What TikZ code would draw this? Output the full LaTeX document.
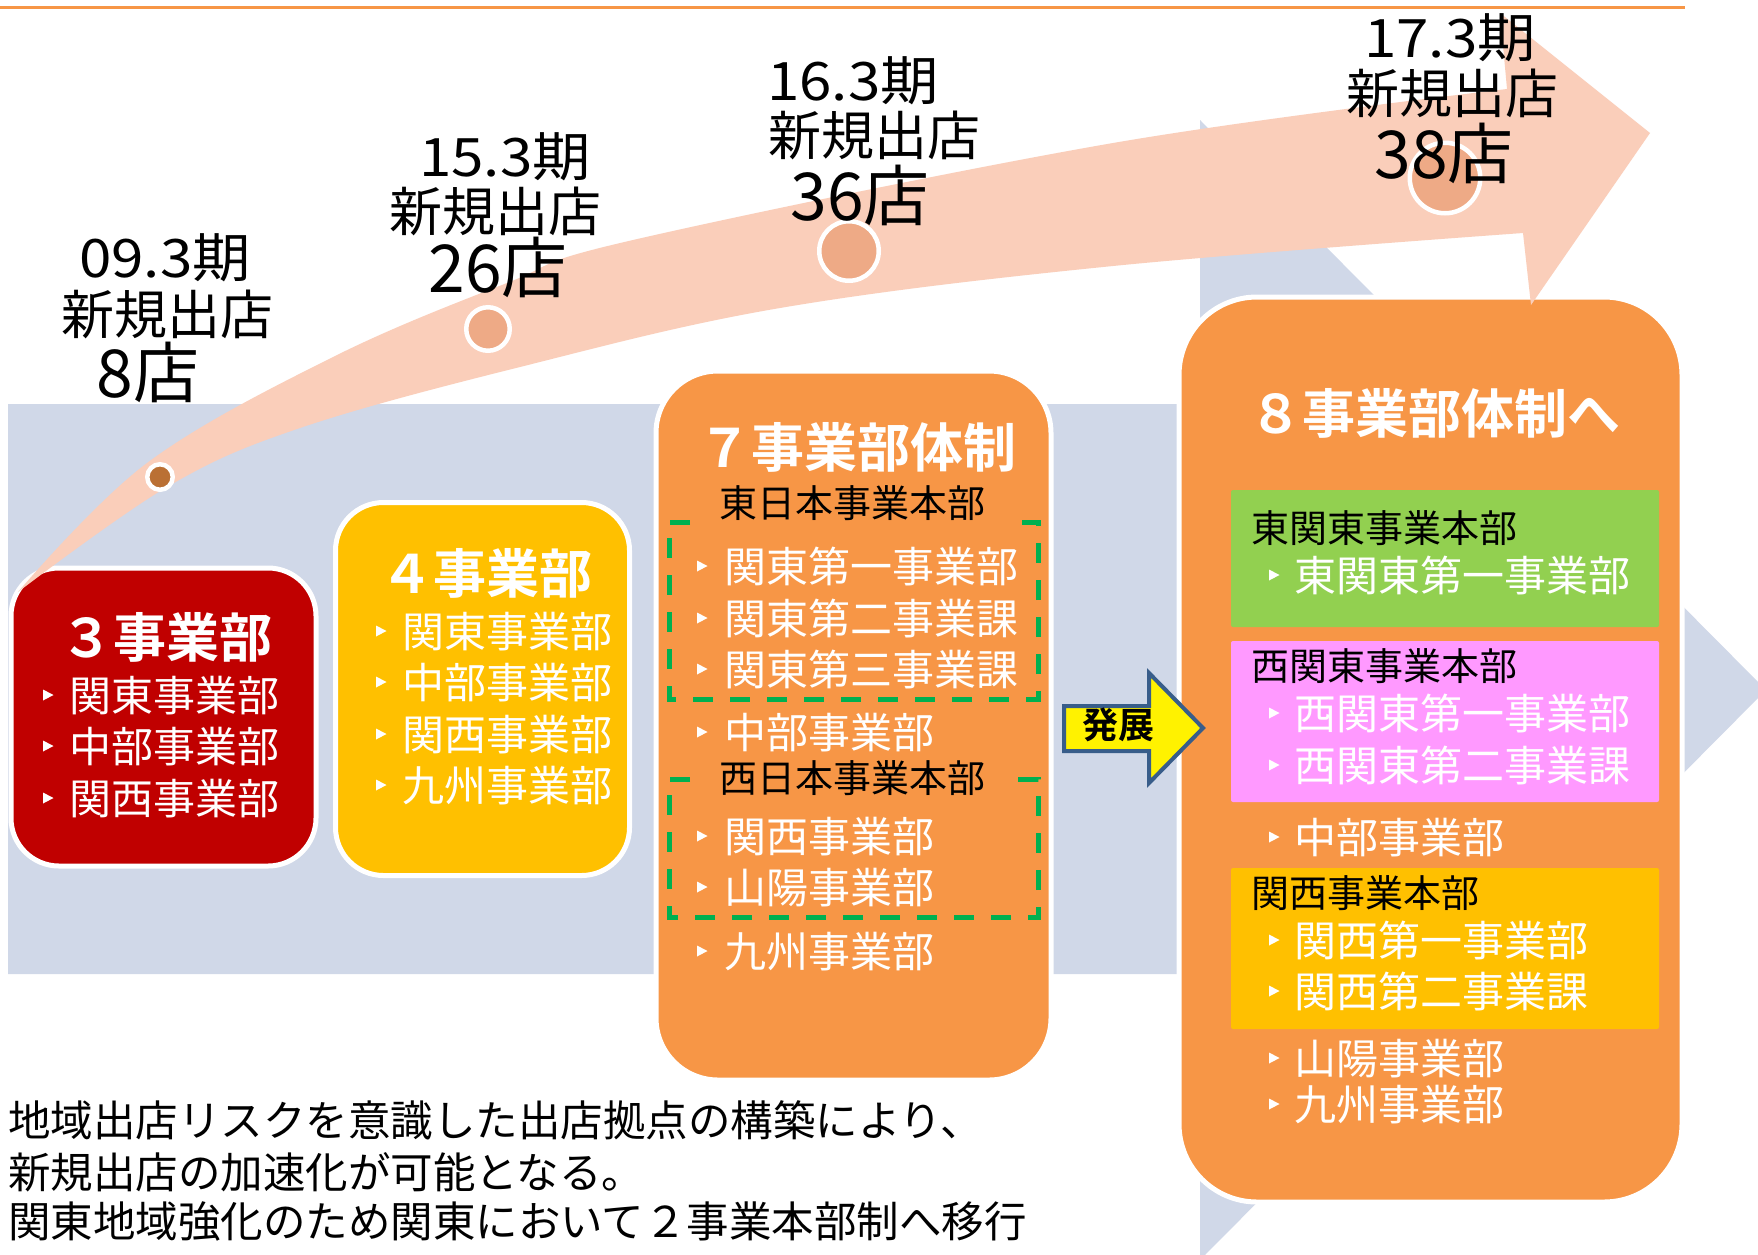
\documentclass[tikz,border=0pt]{standalone}
\usepackage{graphicx}
\usepackage{fontspec}
\setmainfont{Noto Sans CJK JP}[BoldFont={Noto Sans CJK JP Bold}]
\newcommand\myfs[1]{\fontsize{#1}{#1}\selectfont}
\newcommand\wide[1]{\scalebox{1.1}[1]{#1}}
\definecolor{bgblue}{RGB}{208,216,232}
\definecolor{salmon}{RGB}{250,206,186}
\definecolor{dotc}{RGB}{238,170,134}
\definecolor{dotbrown}{RGB}{186,112,52}
\definecolor{orangeA}{RGB}{247,150,70}
\definecolor{redA}{RGB}{192,0,0}
\definecolor{yellowA}{RGB}{255,192,0}
\definecolor{greenA}{RGB}{146,208,80}
\definecolor{pinkA}{RGB}{255,153,255}
\definecolor{dashgreen}{RGB}{0,176,80}
\definecolor{arrowblue}{RGB}{56,93,138}
\begin{document}
\begin{tikzpicture}[x=1pt, y=-1pt,
  listitem/.style={anchor=base west, inner sep=0pt, text=white, font=\myfs{42}},
  hqlab/.style={anchor=base west, inner sep=0pt, text=black, font=\myfs{38}},
  boxtitle/.style={anchor=base, inner sep=0pt, text=white, font=\bfseries\myfs{53}},
  toplab/.style={anchor=base, inner sep=0pt, text=black},
  notetext/.style={anchor=base west, inner sep=0pt, text=black, font=\myfs{42.5}},
  bigbox/.style={draw=white, line width=5pt, inner sep=0pt},
  inbox/.style={inner sep=0pt, minimum width=428pt, rounded corners=2pt},
  stdot/.style={circle, draw=white, line width=4.5pt, inner sep=0pt},
  dashbox/.style={draw=dashgreen, line width=5pt, dash pattern=on 20pt off 17pt},
  bul/.pic={\fill[white] (-5,-5.5) -- (5.5,0) -- (-5,5.5) -- cycle;}
]
\useasboundingbox (0,0) rectangle (1758,1254);
\clip (0,0) rectangle (1758,1254);
\fill[white] (0,0) rectangle (1758,1254);
% top line
\draw[orangeA, line width=2.5pt] (0,7.5) -- (1685,7.5);
% background arrow
\fill[bgblue] (8,404) -- (1200,404) -- (1200,120) -- (1766,690) -- (1200,1260) -- (1200,974) -- (8,974) -- cycle;
% boxes
\node[bigbox, fill=redA, rounded corners=48pt, minimum width=305pt, minimum height=298pt] (b3) at (163.5,717) {};
\node[bigbox, fill=yellowA, rounded corners=48pt, minimum width=294pt, minimum height=373pt] (b4) at (482.5,689) {};
\node[bigbox, fill=orangeA, rounded corners=62pt, minimum width=395pt, minimum height=709pt] (b7) at (853.5,725.5) {};
\node[bigbox, fill=orangeA, rounded corners=78pt, minimum width=503pt, minimum height=905pt] (b8) at (1430.5,749.5) {};
\node[inbox, fill=greenA, minimum height=137pt] (g8) at (1445,558.5) {};
\node[inbox, fill=pinkA, minimum height=161pt] (p8) at (1445,721.5) {};
\node[inbox, fill=yellowA, minimum height=161pt] (y8) at (1445,948.5) {};
% dashed groups
\draw[dashbox] (690,522) -- (669,522) -- (669,699) -- (1038,699) -- (1038,522) -- (1013,522);
\draw[dashbox] (690,779) -- (669,779) -- (669,917) -- (1038,917) -- (1038,779) -- (1013,779);
% hatten arrow
\draw[arrowblue, line width=4pt, fill=yellow, line join=miter] (1064,706) -- (1149,706) -- (1149,673) -- (1203,728) -- (1149,783) -- (1149,751) -- (1064,751) -- cycle;
\node[anchor=base, inner sep=0pt, font=\bfseries\myfs{36}] (hatten) at (1118,738) {発展};
% salmon growth arrow
\fill[salmon] plot[smooth, tension=0.6] coordinates {(18,592) (147,463) (333,357) (507,283) (633,240) (1113,143) (1507,89)}
  -- (1500,13) -- (1650,133) -- (1531,305) -- (1523,233)
  -- plot[smooth, tension=0.6] coordinates {(1523,233) (1113,266) (780,308) (520,367) (300,428) (167,487) (18,592)} -- cycle;
% dots
\node[stdot, fill=dotbrown, minimum size=25.5pt] (d1) at (160,477) {};
\node[stdot, fill=dotc, minimum size=43.5pt] (d2) at (488,329) {};
\node[stdot, fill=dotc, minimum size=59.5pt] (d3) at (849,251) {};
\node[stdot, fill=dotc, minimum size=70.5pt] (d4) at (1445,178) {};
% top labels
\node[toplab,font=\myfs{53}] (p09a) at (165,277) {\wide{09.3期}};
\node[toplab,font=\myfs{53}] (p09b) at (167,334) {新規出店};
\node[toplab,font=\myfs{66}] (p09c) at (148,397) {8店};
\node[toplab,font=\myfs{53}] (p15a) at (505,176) {\wide{15.3期}};
\node[toplab,font=\myfs{53}] (p15b) at (495,231) {新規出店};
\node[toplab,font=\myfs{66}] (p15c) at (498,292) {26店};
\node[toplab,font=\myfs{53}] (p16a) at (853,100) {\wide{16.3期}};
\node[toplab,font=\myfs{53}] (p16b) at (874,155) {新規出店};
\node[toplab,font=\myfs{66}] (p16c) at (860,220) {36店};
\node[toplab,font=\myfs{53}] (p17a) at (1450,57) {\wide{17.3期}};
\node[toplab,font=\myfs{53}] (p17b) at (1452,113) {新規出店};
\node[toplab,font=\myfs{66}] (p17c) at (1444,178) {38店};
% box 3
\node[boxtitle] (t3) at (166,657) {３事業部};
\pic at (48,695) {bul}; \node[listitem] (r1) at (69,711) {関東事業部};
\pic at (48,746) {bul}; \node[listitem] (r2) at (69,762) {中部事業部};
\pic at (48,798) {bul}; \node[listitem] (r3) at (69,814) {関西事業部};
% box 4
\node[boxtitle] (t4) at (486,593) {４事業部};
\pic at (381,631) {bul}; \node[listitem] (y1) at (402,647) {関東事業部};
\pic at (381,682) {bul}; \node[listitem] (y2) at (402,698) {中部事業部};
\pic at (381,734) {bul}; \node[listitem] (y3) at (402,750) {関西事業部};
\pic at (381,785) {bul}; \node[listitem] (y4) at (402,801) {九州事業部};
% box 7
\node[boxtitle] (t7) at (857,467) {７事業部体制};
\node[hqlab] (h7a) at (719,517) {東日本事業本部};
\pic at (702,566) {bul}; \node[listitem] (s1) at (724,582) {関東第一事業部};
\pic at (702,618) {bul}; \node[listitem] (s2) at (724,634) {関東第二事業課};
\pic at (702,669) {bul}; \node[listitem] (s3) at (724,685) {関東第三事業課};
\pic at (702,732) {bul}; \node[listitem] (s4) at (724,748) {中部事業部};
\node[hqlab] (h7b) at (719,792) {西日本事業本部};
\pic at (702,836) {bul}; \node[listitem] (s5) at (724,852) {関西事業部};
\pic at (702,887) {bul}; \node[listitem] (s6) at (724,903) {山陽事業部};
\pic at (702,951) {bul}; \node[listitem] (s7) at (724,967) {九州事業部};
% box 8
\node[boxtitle] (t8) at (1435,433) {８事業部体制へ};
\node[hqlab] (h8a) at (1251,542) {東関東事業本部};
\pic at (1274,575) {bul}; \node[listitem] (e1) at (1294,591) {東関東第一事業部};
\node[hqlab] (h8b) at (1251,680) {西関東事業本部};
\pic at (1274,713) {bul}; \node[listitem] (e2) at (1294,729) {西関東第一事業部};
\pic at (1274,765) {bul}; \node[listitem] (e3) at (1294,781) {西関東第二事業課};
\pic at (1274,837) {bul}; \node[listitem] (e4) at (1294,853) {中部事業部};
\node[hqlab] (h8c) at (1251,907) {関西事業本部};
\pic at (1274,940) {bul}; \node[listitem] (e5) at (1294,956) {関西第一事業部};
\pic at (1274,991) {bul}; \node[listitem] (e6) at (1294,1007) {関西第二事業課};
\pic at (1274,1058) {bul}; \node[listitem] (e7) at (1294,1074) {山陽事業部};
\pic at (1274,1104) {bul}; \node[listitem] (e8) at (1294,1120) {九州事業部};
% bottom notes
\node[notetext] (n1) at (8,1136) {地域出店リスクを意識した出店拠点の構築により、};
\node[notetext] (n2) at (8,1188) {新規出店の加速化が可能となる。};
\node[notetext] (n3) at (8,1237) {関東地域強化のため関東において２事業本部制へ移行};
\end{tikzpicture}
\end{document}
